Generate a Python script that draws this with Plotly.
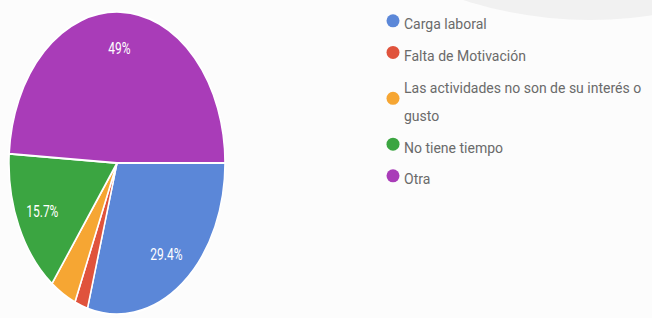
import plotly.graph_objects as go

categories = ["Carga laboral", "Falta de Motivación",
              "Las actividades no son de su interés o<br>gusto",
              "No tiene tiempo", "Otra"]
values = [15, 1, 2, 8, 25]
colors = ["#5b87d8", "#e0533c", "#f6a633", "#3ba541", "#a93cb8"]

W, H = 652, 318
total = sum(values)
texts = [f"{v / total * 100:.3g}%" if v / total > 0.05 else "" for v in values]

fig = go.Figure()
fig.add_trace(go.Pie(
    labels=[c.replace("<br>", " ") for c in categories],
    values=values,
    text=texts,
    textinfo="text",
    textposition="inside",
    insidetextorientation="horizontal",
    insidetextfont=dict(color="white", size=12, family="Roboto, sans-serif"),
    marker=dict(colors=colors, line=dict(color="white", width=1.5)),
    sort=False,
    direction="clockwise",
    rotation=90,
    showlegend=False,
    hoverinfo="label+percent",
    domain=dict(x=[9 / W, 225 / W], y=[47 / H, 263 / H]),
))

for cat, col in zip(categories, colors):
    fig.add_trace(go.Scatter(
        x=[None], y=[None], mode="markers", name=f'<span style="font-size:14px">{cat}</span>',
        marker=dict(color=col, size=13, symbol="circle"),
        showlegend=True,
    ))

fig.update_layout(
    width=W, height=H,
    margin=dict(l=0, r=0, t=0, b=0, autoexpand=False),
    paper_bgcolor="#fcfcfc",
    plot_bgcolor="rgba(0,0,0,0)",
    xaxis=dict(visible=False),
    yaxis=dict(visible=False),
    legend=dict(
        x=364 / W, y=1, xanchor="left", yanchor="top",
        font=dict(size=22, color="#6a6a6a", family="Roboto, sans-serif"),
        bgcolor="rgba(0,0,0,0)",
        itemclick=False,
    ),
    shapes=[dict(type="circle", xref="paper", yref="paper",
                 x0=177 / W, x1=1003 / W, y0=(H - 20) / H, y1=(H + 806) / H,
                 fillcolor="#f1f1f1", line=dict(width=0), layer="below")],
)

post = """
document.body.style.margin = '0';
document.body.style.overflow = 'hidden';
var gd = document.getElementsByClassName('plotly-graph-div')[0];
function stretch(){
  var pl = gd.querySelector('.pielayer');
  if(!pl) return;
  pl.removeAttribute('transform');
  var st = pl.querySelectorAll('g.slicetext');
  st.forEach(function(g){ g.removeAttribute('transform'); });
  var bb = pl.getBBox();
  var cx = bb.x + bb.width/2, cy = bb.y + bb.height/2, r = bb.width/2;
  st.forEach(function(g){
    var b = g.getBBox();
    if(!b.width) return;
    var dx = b.x + b.width/2 - cx, dy = b.y + b.height/2 - cy;
    var d = Math.sqrt(dx*dx + dy*dy);
    if(d < 1) return;
    var k = 0.76*r/d - 1;
    g.setAttribute('transform','translate('+(dx*k)+','+(dy*k)+')');
  });
  pl.setAttribute('transform','translate(0,'+cy+') scale(1,1.4) translate(0,'+(-cy)+')');
  gd.querySelectorAll('.legend .legendsymbols').forEach(function(s){
    s.setAttribute('transform','translate(9,0)');
  });
}
stretch();
gd.on('plotly_afterplot', stretch);
"""
fig.write_html("out.html", post_script=post, config={"displayModeBar": False})
